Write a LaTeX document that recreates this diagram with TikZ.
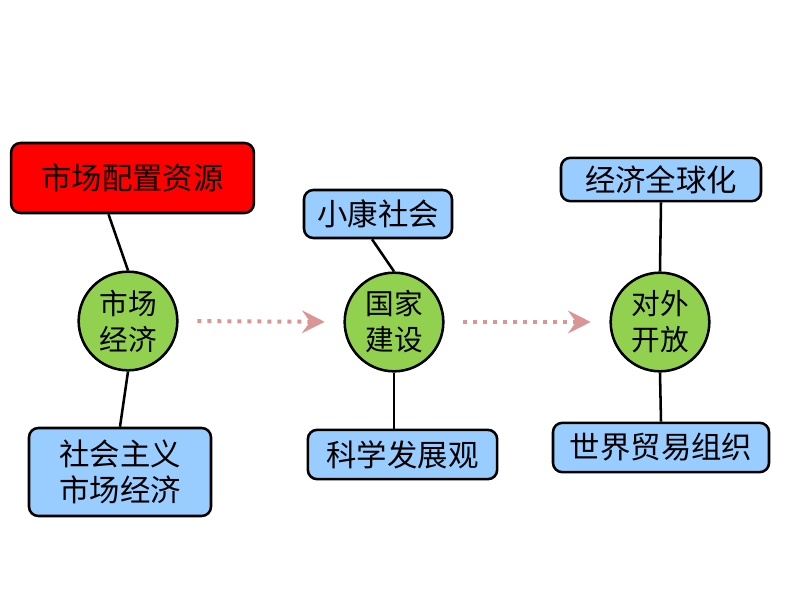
\documentclass[tikz,border=0pt]{standalone}
\usepackage{fontspec}
\setmainfont{Noto Sans CJK SC}
\usetikzlibrary{arrows.meta,calc}

\definecolor{boxred}{RGB}{255,0,0}
\definecolor{boxblue}{RGB}{153,204,255}
\definecolor{ballgreen}{RGB}{146,208,80}
\definecolor{flowpink}{RGB}{217,150,148}

\begin{document}
\begin{tikzpicture}[x=0.75pt,y=0.75pt,yscale=-1,xscale=1,
  topic/.style={draw=black, line width=1.9pt, rounded corners=7pt, inner sep=0pt, align=center,
    font=\fontsize{22.8}{27}\selectfont},
  ball/.style={circle, draw=black, line width=1.9pt, fill=ballgreen, minimum size=74pt, inner sep=0pt,
    align=center, font=\fontsize{21.5}{27}\selectfont},
  link/.style={line width=1.9pt},
  flow/.style={draw=flowpink, line width=3pt, dash pattern=on 3pt off 4.5pt,
    -{Stealth[length=17pt, width=17pt, inset=6pt]}, shorten <=14pt, shorten >=14pt}]

\useasboundingbox (0,0) rectangle (794,596);

            % centre column: 国家建设
            \node[ball] (gj) at (394,322) {国家\\建设};
            \node[topic, fill=boxblue, minimum width=111pt, minimum height=36pt] (xk) at (378,214) {小康社会};
            \node[topic, fill=boxblue, minimum width=142pt, minimum height=37pt] (kx) at (402.5,454.5) {科学发展观};

            % left column: 市场经济
            \node[ball] (sc) at (128,321) {市场\\经济};
            \node[topic, fill=boxred, minimum width=182pt, minimum height=52.5pt] (pz) at (132.5,178) {市场配置资源};
            \node[topic, fill=boxblue, minimum width=136.5pt, minimum height=66pt] (sh) at (120,472) {社会主义\\市场经济};

            % right column: 对外开放
            \node[ball] (dw) at (660,322) {对外\\开放};
            \node[topic, fill=boxblue, minimum width=150pt, minimum height=32.5pt] (qq) at (661,179.5) {经济全球化};
            \node[topic, fill=boxblue, minimum width=162pt, minimum height=37pt] (wto) at (661,447.5) {世界贸易组织};

            % connectors
            \draw[link] ($(pz.south)+(-24,0)$) -- (sc.north);
            \draw[link] (sc.south) -- (sh.north);
            \draw[link] ($(xk.south)+(-6,0)$) -- (gj.north);
            \draw[link] (gj.south) -- (gj.south |- kx.north);
            \draw[link] (qq.south) -- (dw.north);
            \draw[link] (dw.south) -- (wto.north);

            % flow arrows
            \draw[flow] (sc.east) -- (gj.west);
            \draw[flow] (gj.east) -- (dw.west);

\end{tikzpicture}
\end{document}
